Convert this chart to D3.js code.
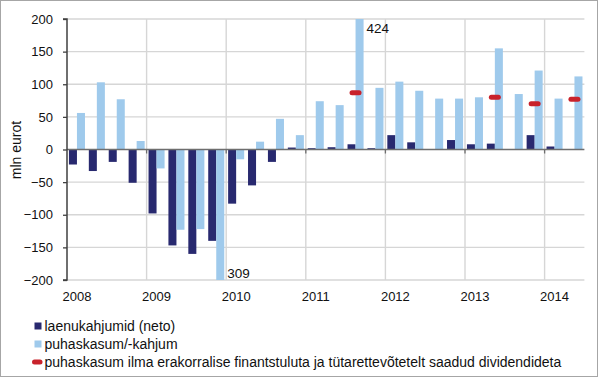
<!DOCTYPE html>
<html><head><meta charset="utf-8">
<script src="https://cdn.jsdelivr.net/npm/d3@7"></script>
<style>
html,body{margin:0;padding:0;background:#fff;}
svg{display:block;font-family:"Liberation Sans",Arial,sans-serif;}
</style></head>
<body><svg id="c" width="600" height="378"></svg>
<script>
const years = ["2008","2009","2010","2011","2012","2013","2014"];
const quarters = ["2008 I","2008 II","2008 III","2008 IV","2009 I","2009 II","2009 III","2009 IV",
  "2010 I","2010 II","2010 III","2010 IV","2011 I","2011 II","2011 III","2011 IV",
  "2012 I","2012 II","2012 III","2012 IV","2013 I","2013 II","2013 III","2013 IV",
  "2014 I","2014 II"];
const loanLosses = [-23,-33,-19,-51, -98,-147,-160,-140, -83,-55,-19,3, 2,3.5,8,2, 22,11,0,14.5, 8,9,0,22, 4.6,0];
const netProfit = [56,103,77,13, -29,-123,-122,-309, -15,12,47,22, 74,68,424,94.5, 104,90,78,78, 80,155,85,121, 78,112];
const adjProfit = [null,null,null,null, null,null,null,null, null,null,null,null, null,null,87,null, null,null,null,null, null,80,null,70, null,77];
const yTicks = [-200,-150,-100,-50,0,50,100,150,200];
const seriesNames = ["laenukahjumid (neto)","puhaskasum/-kahjum","puhaskasum ilma erakorralise finantstuluta ja tütarettevõtetelt saadud dividendideta"];
const colors = {dark:"#28296f", light:"#9fcaec", red:"#c8222b"};

const svg = d3.select("#c");
const L = 67, R = 584.4, T = 19, B = 280;

svg.append("rect").attr("x",0.5).attr("y",0.5).attr("width",597).attr("height",376)
  .attr("fill","#fff").attr("stroke","#a6a6a6").attr("stroke-width",1);

const x = d3.scaleBand().domain(quarters).range([L,R]).padding(0);
const x1 = d3.scaleBand().domain(["dark","light"]).range([0,x.bandwidth()]).paddingInner(0).paddingOuter(0.24);
const y = d3.scaleLinear().domain([-200,200]).range([B,T]).clamp(true);

// horizontal gridlines
svg.append("g").selectAll("line").data(yTicks.filter(d=>d!==0)).join("line")
  .attr("x1",L).attr("x2",R).attr("y1",d=>y(d)).attr("y2",d=>y(d))
  .attr("stroke","#d6d6d6").attr("stroke-width",1.4);
// vertical gridlines at year boundaries
const yearStarts = years.map(yr=>yr+" I");
svg.append("g").selectAll("line").data(yearStarts.slice(1)).join("line")
  .attr("x1",d=>x(d)).attr("x2",d=>x(d)).attr("y1",T).attr("y2",B)
  .attr("stroke","#d6d6d6").attr("stroke-width",1.4);

// bars
const bars = svg.append("g");
bars.selectAll("rect.dark").data(quarters).join("rect").attr("class","dark")
  .attr("x",(q)=>x(q)+x1("dark")).attr("width",x1.bandwidth())
  .attr("y",(q,i)=>Math.min(y(0),y(loanLosses[i])))
  .attr("height",(q,i)=>Math.abs(y(loanLosses[i])-y(0)))
  .attr("fill",colors.dark);
bars.selectAll("rect.light").data(quarters).join("rect").attr("class","light")
  .attr("x",(q)=>x(q)+x1("light")).attr("width",x1.bandwidth())
  .attr("y",(q,i)=>Math.min(y(0),y(netProfit[i])))
  .attr("height",(q,i)=>Math.abs(y(netProfit[i])-y(0)))
  .attr("fill",colors.light);

// zero axis line and year ticks
svg.append("line").attr("x1",L).attr("x2",R).attr("y1",y(0)).attr("y2",y(0))
  .attr("stroke","#6e6e6e").attr("stroke-width",1.3);
svg.append("g").selectAll("line").data(yearStarts.slice(1)).join("line")
  .attr("x1",d=>x(d)).attr("x2",d=>x(d)).attr("y1",y(0)).attr("y2",y(0)+4)
  .attr("stroke","#6e6e6e").attr("stroke-width",1.3);

// red markers
svg.append("g").selectAll("rect").data(quarters.map((q,i)=>({q,v:adjProfit[i]})).filter(d=>d.v!=null)).join("rect")
  .attr("x",d=>x(d.q)+x.bandwidth()/2-6).attr("y",d=>y(d.v)-2.5)
  .attr("width",12).attr("height",5).attr("rx",2.5)
  .attr("fill",colors.red);

// annotations for clipped bars
const annotations = [{i:14,text:"424",top:true},{i:7,text:"309",top:false}];
svg.append("g").selectAll("text").data(annotations).join("text")
  .attr("x",d=>x(quarters[d.i])+x1("light")+x1.bandwidth()+3)
  .attr("y",d=>d.top ? y(200)+13.5 : y(-200)-2.5)
  .attr("font-size",13.5).attr("fill","#111").text(d=>d.text);

// y axis
const yAxis = svg.append("g").attr("transform",`translate(${L},0)`)
  .call(d3.axisLeft(y).tickValues(yTicks).tickSize(4).tickPadding(10));
yAxis.select(".domain").attr("stroke","#404040").attr("stroke-width",1.5).attr("d",`M-4,${T}H0V${B}H-4`);
yAxis.selectAll(".tick line").attr("stroke","#404040").attr("stroke-width",1.3);
yAxis.selectAll("text").attr("font-size",13).attr("fill","#111").attr("font-family","Liberation Sans, Arial, sans-serif");

// x labels
const xAxis = svg.append("g").attr("transform",`translate(0,${B})`)
  .call(d3.axisBottom(x).tickValues(yearStarts).tickFormat(q=>q.split(" ")[0]).tickSize(0).tickPadding(12));
xAxis.select(".domain").remove();
xAxis.selectAll("text").attr("font-size",13).attr("fill","#111").attr("font-family","Liberation Sans, Arial, sans-serif");

// y title
svg.append("text").attr("transform","translate(21,150) rotate(-90)")
  .attr("text-anchor","middle").attr("font-size",14).attr("fill","#111").text("mln eurot");

// legend
const lg = svg.append("g");
const rowY = [326, 344, 362];
seriesNames.forEach((name,i)=>{
  if(i<2){
    lg.append("rect").attr("x",34.5).attr("y",rowY[i]-3.5).attr("width",7).attr("height",7)
      .attr("fill", i===0?colors.dark:colors.light);
  } else {
    lg.append("rect").attr("x",32).attr("y",rowY[i]-2.5).attr("width",10.5).attr("height",5).attr("rx",2.5)
      .attr("fill",colors.red);
  }
  lg.append("text").attr("x",44.5).attr("y",rowY[i]).attr("dy","0.35em")
    .attr("font-size",14).attr("fill","#111").text(name);
});
</script></body></html>
